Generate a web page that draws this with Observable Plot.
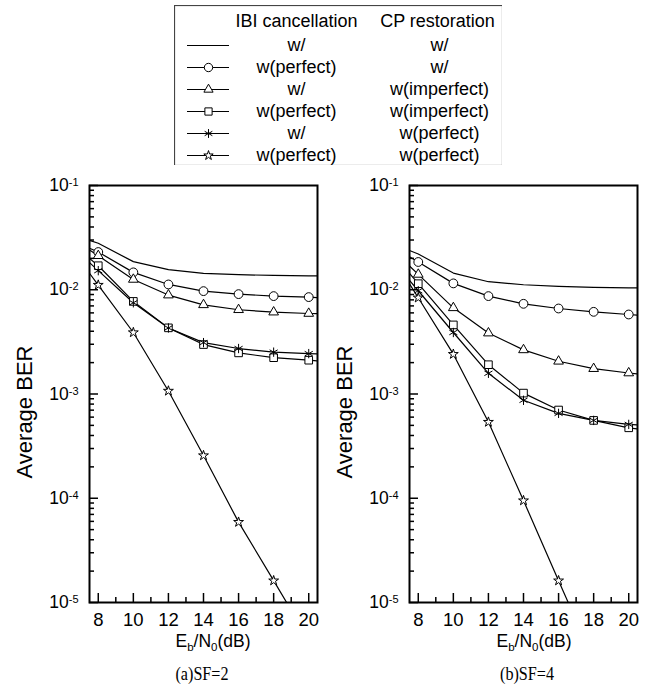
<!DOCTYPE html>
<html><head><meta charset="utf-8">
<script src="https://cdn.jsdelivr.net/npm/d3@7"></script>
<script src="https://cdn.jsdelivr.net/npm/@observablehq/plot@0.6"></script>
<style>
body{margin:0;background:#fff;font-family:"Liberation Sans",Arial,sans-serif;color:#000;}
#root{position:relative;width:662px;height:693px;overflow:hidden;}
.abs{position:absolute;}
.ylab{font-size:22px;transform:translate(-50%,-50%) rotate(-90deg);white-space:nowrap;line-height:1;}
.xlab{font-size:17.5px;transform:translate(-50%,-50%);white-space:nowrap;line-height:1;}
.xlab sub{font-size:11.5px;vertical-align:-4px;line-height:0;}
.cap{font-family:"Liberation Serif","Times New Roman",serif;font-size:19px;transform:translate(-50%,-50%) scaleX(0.85);white-space:nowrap;line-height:1;}
</style></head><body><div id="root"></div>
<script>
// ---------- data ----------
const ebn0 = [7.5, 8, 10, 12, 14, 16, 18, 20, 20.5];
const markerX = [8, 10, 12, 14, 16, 18, 20];
const ibiLabels = ["w/", "w(perfect)", "w/", "w(perfect)", "w/", "w(perfect)"];
const cpLabels = ["w/", "w/", "w(imperfect)", "w(imperfect)", "w(perfect)", "w(perfect)"];
const seriesSymbols = [null, "circle", "triangle", "square", "asterisk", "star"];

// (a) SF=2
const sf2_s1 = [0.0298, 0.0279, 0.0186, 0.01557, 0.01436, 0.01394, 0.01374, 0.0136, 0.0136];
const sf2_s2 = [0.0250, 0.0230, 0.01468, 0.01124, 0.0097, 0.00908, 0.00869, 0.0085, 0.0084];
const sf2_s3 = [0.0240, 0.0212, 0.01256, 0.00889, 0.00717, 0.00643, 0.0061, 0.00592, 0.0059];
const sf2_s4 = [0.0200, 0.0170, 0.00773, 0.00431, 0.00298, 0.00248, 0.00223, 0.00211, 0.00208];
const sf2_s5 = [0.0182, 0.01524, 0.0075, 0.0043, 0.00311, 0.00273, 0.00252, 0.00244, 0.00242];
const sf2_s6 = [0.0144, 0.0111, 0.00389, 0.00107, 0.000257, 0.000059, 0.0000162, 0.0000044, null];

// (b) SF=4
const sf4_s1 = [0.0238, 0.0220, 0.01446, 0.01194, 0.01117, 0.01076, 0.01052, 0.0104, 0.0104];
const sf4_s2 = [0.0207, 0.01846, 0.01151, 0.00869, 0.00733, 0.00661, 0.00614, 0.00579, 0.0057];
const sf4_s3 = [0.0169, 0.01403, 0.00671, 0.00384, 0.00265, 0.00206, 0.00175, 0.00159, 0.00156];
const sf4_s4 = [0.01435, 0.01143, 0.0046, 0.00191, 0.00102, 0.000702, 0.000558, 0.000474, 0.000462];
const sf4_s5 = [0.0123, 0.00978, 0.00389, 0.00158, 0.00087, 0.000652, 0.000558, 0.000511, 0.000505];
const sf4_s6 = [0.0114, 0.00838, 0.00241, 0.000538, 0.000095, 0.0000162, 0.0000028, null, null];

const xMajor = [8, 10, 12, 14, 16, 18, 20];
const xMinor = [9, 11, 13, 15, 17, 19];
const yMajor = [1e-1, 1e-2, 1e-3, 1e-4, 1e-5];
const yMinor = [];
for (const e of [-5, -4, -3, -2]) for (let m = 2; m <= 9; m++) yMinor.push(m * Math.pow(10, e));

const panels = [
  {left: 0, series: [sf2_s1, sf2_s2, sf2_s3, sf2_s4, sf2_s5, sf2_s6], cap: "(a)SF=2", ylabX: 25, xlabX: 213, capX: 202},
  {left: 320, series: [sf4_s1, sf4_s2, sf4_s3, sf4_s4, sf4_s5, sf4_s6], cap: "(b)SF=4", ylabX: 345, xlabX: 534, capX: 527}
];

const root = document.getElementById("root");

function supLabels(svg) {
  d3.select(svg).selectAll('g[aria-label="y-axis tick label"] text').each(function () {
    const t = this.textContent;
    if (!t.includes("^")) return;
    const [base, exp] = t.split("^");
    const s = d3.select(this);
    s.text(null);
    s.append("tspan").text(base);
    s.append("tspan").attr("dy", "-0.45em").attr("font-size", "11px").text(exp);
  });
}

const symR = s => s === "star" ? 3.1 : s === "triangle" ? 3.6 : s === "square" ? 4.3 : 4.4;

// chart geometry (pixels)
const W = 331, H = 460, mL = 89, mR = 14, mT = 15, mB = 28;
const frameW = W - mL - mR, frameH = H - mT - mB;

for (const p of panels) {
  const rows = [];
  p.series.forEach((vals, k) => {
    vals.forEach((v, i) => rows.push({series: k, x: ebn0[i], y: v}));
  });
  const marks = [
    Plot.line(rows, {x: "x", y: "y", z: "series", stroke: "black", strokeWidth: 1.2, clip: true})
  ];
  seriesSymbols.forEach((sym, k) => {
    if (!sym) return;
    const pts = rows.filter(d => d.series === k && markerX.includes(d.x) && d.y != null);
    marks.push(Plot.dot(pts, {x: "x", y: "y", symbol: () => sym, r: symR(sym), fill: sym === "asterisk" ? "none" : "white", stroke: "black", strokeWidth: 1, clip: true}));
  });
  marks.push(
    Plot.axisX({ticks: xMajor, tickSize: 0, tickPadding: 10, fontSize: 18.5, label: null}),
    Plot.axisY({ticks: yMajor, tickSize: 0, tickPadding: 11, fontSize: 17.5, label: null,
      tickFormat: d => "10^" + Math.round(Math.log10(d))}),
    Plot.frame({stroke: "black", strokeWidth: 2}),
    // inward ticks along the bottom and left frame edges
    Plot.tickX(xMajor, {x: d => d, insetTop: frameH - 9, stroke: "black", strokeWidth: 1.5}),
    Plot.tickX(xMinor, {x: d => d, insetTop: frameH - 5, stroke: "black", strokeWidth: 1.5}),
    Plot.tickY(yMajor, {y: d => d, insetRight: frameW - 9, stroke: "black", strokeWidth: 1.5}),
    Plot.tickY(yMinor, {y: d => d, insetRight: frameW - 5, stroke: "black", strokeWidth: 1.5})
  );
  const chart = Plot.plot({
    width: W, height: H,
    marginLeft: mL, marginRight: mR, marginTop: mT, marginBottom: mB,
    style: {fontFamily: "Liberation Sans, Arial, sans-serif", color: "#000", background: "transparent", overflow: "visible"},
    x: {domain: [7.5, 20.5], label: null},
    y: {type: "log", domain: [1e-5, 1e-1], label: null},
    marks
  });
  supLabels(chart);
  chart.style.position = "absolute";
  chart.style.left = p.left + "px";
  chart.style.top = "170px";
  root.appendChild(chart);

  const yl = document.createElement("div");
  yl.className = "abs ylab"; yl.style.left = p.ylabX + "px"; yl.style.top = "412px";
  yl.textContent = "Average BER"; root.appendChild(yl);
  const xl = document.createElement("div");
  xl.className = "abs xlab"; xl.style.left = p.xlabX + "px"; xl.style.top = "642px";
  xl.innerHTML = "E<sub>b</sub>/N<sub>0</sub>(dB)"; root.appendChild(xl);
  const cp = document.createElement("div");
  cp.className = "abs cap"; cp.style.left = p.capX + "px"; cp.style.top = "673px";
  cp.textContent = p.cap; root.appendChild(cp);
}

// ---------- legend ----------
const legRows = ibiLabels.map((ibi, i) => ({row: i, ibi, cp: cpLabels[i], sym: seriesSymbols[i]}));
const legFont = 18;
const legend = Plot.plot({
  width: 328, height: 160, margin: 0,
  style: {fontFamily: "Liberation Sans, Arial, sans-serif", color: "#000", background: "transparent"},
  x: {domain: [0, 1], axis: null},
  y: {type: "point", domain: legRows.map(d => d.row), range: [39, 150], padding: 0, axis: null},
  marks: [
    Plot.frame({stroke: "#444", strokeWidth: 1.2}),
    Plot.text(["IBI cancellation"], {frameAnchor: "top-left", lineAnchor: "middle", dx: 122, dy: 16, textAnchor: "middle", fontSize: legFont}),
    Plot.text(["CP restoration"], {frameAnchor: "top-left", lineAnchor: "middle", dx: 263, dy: 16, textAnchor: "middle", fontSize: legFont}),
    Plot.ruleY(legRows, {y: "row", insetLeft: 13, insetRight: 273, stroke: "black", strokeWidth: 1.2}),
    ...legRows.filter(d => d.sym).map(d => Plot.dot([d], {y: "row", frameAnchor: "left", dx: 34, symbol: () => d.sym,
      r: symR(d.sym) * 0.95, fill: d.sym === "asterisk" ? "none" : "white", stroke: "black", strokeWidth: 1})),
    Plot.text(legRows, {y: "row", text: "ibi", frameAnchor: "left", lineAnchor: "middle", dx: 122, textAnchor: "middle", fontSize: legFont}),
    Plot.text(legRows, {y: "row", text: "cp", frameAnchor: "left", lineAnchor: "middle", dx: 265, textAnchor: "middle", fontSize: legFont})
  ]
});
legend.style.position = "absolute";
legend.style.left = "174px";
legend.style.top = "5px";
root.appendChild(legend);
</script>
</body></html>
